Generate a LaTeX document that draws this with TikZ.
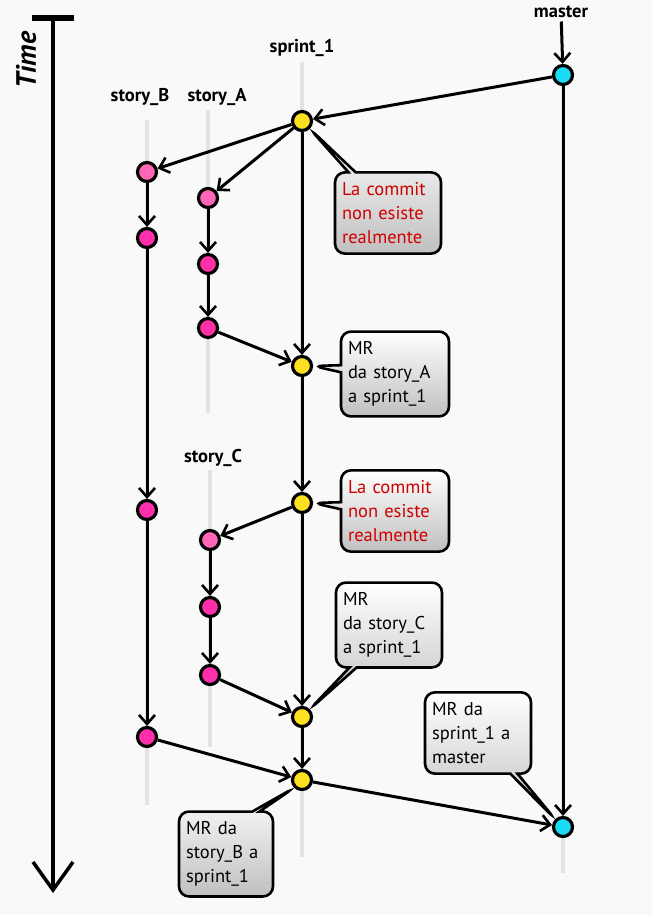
\documentclass[tikz,border=0pt]{standalone}
\usepackage{fontspec}
\setmainfont{PT Sans}
\usetikzlibrary{arrows.meta, shapes.callouts}

\definecolor{bgcol}{HTML}{F9F9F9}
\definecolor{mastercol}{HTML}{1ADCF5}
\definecolor{sprintcol}{HTML}{FDE020}
\definecolor{forkcol}{HTML}{FF66B8}
\definecolor{storycol}{HTML}{FF2EAA}
\definecolor{notecol}{HTML}{D00000}

\tikzset{
  commit/.style={circle, draw, line width=3.2pt, minimum size=19pt, inner sep=0pt},
  branchname/.style={font=\fontsize{18.5}{22}\selectfont\bfseries},
  lifeline/.style={line width=3.5pt, gray!22},
  flow/.style={line width=3pt, -{Straight Barb[length=9pt, width=16pt, line width=2.6pt]}},
  note/.style={rectangle callout, draw, line width=2.6pt, rounded corners=10pt,
    top color=white, bottom color=gray!50, align=left, inner xsep=7pt, inner ysep=10pt,
    font=\fontsize{18.5}{24}\selectfont},
}

\begin{document}
\begin{tikzpicture}[x=1pt, y=-1pt]

% Background
\fill[bgcol] (0,0) rectangle (652,915);
\useasboundingbox (0,0) rectangle (652,915);

% Time axis
\draw[line width=6pt] (32,18) -- (74,18);
\draw[line width=3.5pt, -{Straight Barb[length=28pt, width=40pt, line width=3.5pt]}] (53,18) -- (53,893);
\node[rotate=90, font=\fontsize{28}{32}\selectfont\bfseries\itshape] (time) at (26,60) {Time};

% Branch lifelines
\draw[lifeline] (147,120) -- (147,805);
\draw[lifeline] (208,110) -- (208,413);
\draw[lifeline] (210,470) -- (210,747);
\draw[lifeline] (302,62) -- (302,857);
\draw[lifeline] (563,75) -- (563,873);

% Branch names
\node[branchname] (lmaster) at (561,12) {master};
\node[branchname] (lsprint) at (302,48) {sprint\_1};
\node[branchname] (lstoryB) at (140,97) {story\_B};
\node[branchname] (lstoryA) at (217,97) {story\_A};
\node[branchname] (lstoryC) at (213,458) {story\_C};

% Commits
\node[commit, fill=mastercol] (m1) at (563,75) {};
\node[commit, fill=mastercol] (m2) at (563,827) {};

\node[commit, fill=sprintcol] (s1) at (302,121) {};
\node[commit, fill=sprintcol] (s2) at (302,366) {};
\node[commit, fill=sprintcol] (s3) at (302,503) {};
\node[commit, fill=sprintcol] (s4) at (302,717) {};
\node[commit, fill=sprintcol] (s5) at (302,780) {};

\node[commit, fill=forkcol] (b1) at (147,172) {};
\node[commit, fill=storycol] (b2) at (147,238) {};
\node[commit, fill=storycol] (b3) at (147,510) {};
\node[commit, fill=storycol] (b4) at (147,737) {};

\node[commit, fill=forkcol] (a1) at (208,198) {};
\node[commit, fill=storycol] (a2) at (208,264) {};
\node[commit, fill=storycol] (a3) at (208,328) {};

\node[commit, fill=forkcol] (c1) at (210,540) {};
\node[commit, fill=storycol] (c2) at (210,607) {};
\node[commit, fill=storycol] (c3) at (210,675) {};

% History
\draw[flow] (lmaster) -- (m1);
\draw[flow] (m1) -- (s1);
\draw[flow] (m1) -- (m2);
\draw[flow] (s1) -- (b1);
\draw[flow] (s1) -- (a1);
\draw[flow] (s1) -- (s2);
\draw[flow] (b1) -- (b2);
\draw[flow] (b2) -- (b3);
\draw[flow] (b3) -- (b4);
\draw[flow] (b4) -- (s5);
\draw[flow] (a1) -- (a2);
\draw[flow] (a2) -- (a3);
\draw[flow] (a3) -- (s2);
\draw[flow] (s2) -- (s3);
\draw[flow] (s3) -- (c1);
\draw[flow] (s3) -- (s4);
\draw[flow] (c1) -- (c2);
\draw[flow] (c2) -- (c3);
\draw[flow] (c3) -- (s4);
\draw[flow] (s4) -- (s5);
\draw[flow] (s5) -- (m2);

% Notes
\node[note, text=notecol, text width=92pt, callout absolute pointer={(s1.south east)}] (n1) at (388,213)
  {La commit\\non esiste\\realmente};
\node[note, text width=94pt, callout absolute pointer={(s2.east)}] (n2) at (395,374)
  {MR\\da story\_A\\a sprint\_1};
\node[note, text=notecol, text width=94pt, callout absolute pointer={(s3.east)}] (n3) at (395,511)
  {La commit\\non esiste\\realmente};
\node[note, text width=92pt, callout absolute pointer={(s4.north east)}] (n4) at (389,625)
  {MR\\da story\_C\\a sprint\_1};
\node[note, text width=92pt, callout absolute pointer={(m2.north west)}] (n5) at (478,733)
  {MR da\\sprint\_1 a\\master};
\node[note, text width=80pt, callout absolute pointer={(s5.south west)}] (n6) at (226,854)
  {MR da\\story\_B a\\sprint\_1};

\end{tikzpicture}
\end{document}
